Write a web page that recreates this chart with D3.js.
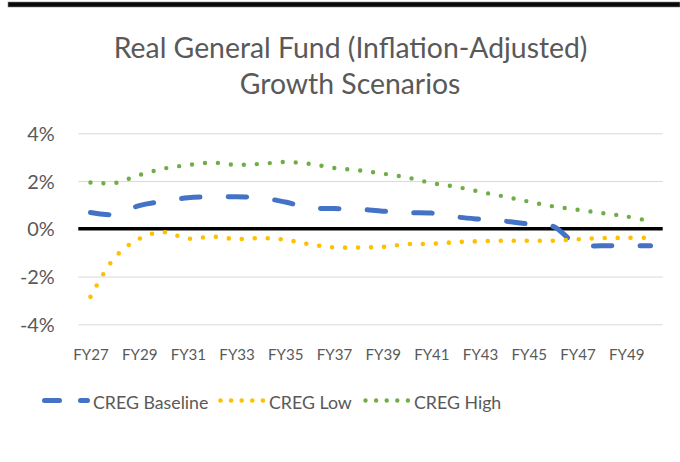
<!DOCTYPE html>
<html>
<head>
<meta charset="utf-8">
<script src="https://cdn.jsdelivr.net/npm/d3@7"></script>
<style>
  html, body { margin: 0; padding: 0; background: #fff; }
  svg { display: block; }
  text { font-family: Lato, "Open Sans", sans-serif; fill: #595959; }
</style>
</head>
<body>
<svg id="chart" width="680" height="462"></svg>
<script>
// ---- data ----
const categories = ["FY27","FY28","FY29","FY30","FY31","FY32","FY33","FY34","FY35","FY36","FY37","FY38",
                    "FY39","FY40","FY41","FY42","FY43","FY44","FY45","FY46","FY47","FY48","FY49","FY50"];
const tickLabels = ["FY27","FY29","FY31","FY33","FY35","FY37","FY39","FY41","FY43","FY45","FY47","FY49"];
const yTicks = [-4, -2, 0, 2, 4];
const baseline = [0.68, 0.60, 0.97, 1.15, 1.30, 1.34, 1.34, 1.30, 1.12, 0.88, 0.85, 0.82,
                  0.74, 0.68, 0.66, 0.50, 0.40, 0.32, 0.20, 0.10, -0.66, -0.71, -0.71, -0.71];
const low      = [-2.85, -1.20, -0.42, -0.14, -0.41, -0.33, -0.43, -0.39, -0.46, -0.65, -0.78, -0.78,
                  -0.76, -0.64, -0.63, -0.56, -0.52, -0.50, -0.50, -0.50, -0.44, -0.39, -0.38, -0.38];
const high     = [1.94, 1.92, 2.25, 2.52, 2.67, 2.77, 2.68, 2.72, 2.80, 2.72, 2.55, 2.45,
                  2.31, 2.15, 1.92, 1.76, 1.55, 1.35, 1.14, 0.94, 0.80, 0.66, 0.52, 0.32];
const seriesNames = ["CREG Baseline", "CREG Low", "CREG High"];
const title = ["Real General Fund (Inflation-Adjusted)", "Growth Scenarios"];

// ---- styles ----
const styles = [
  { color: "#4472C4", width: 5,   dash: "18.5,28.2", legendDash: "15,21" },
  { color: "#FFC000", width: 4.6, dash: "0,13",      legendDash: "0,10.6" },
  { color: "#70AD47", width: 4.4, dash: "0,13",      legendDash: "0,10.6" }
];
const seriesData = [baseline, low, high];

const svg = d3.select("#chart");

// font-size fitting helper: size so that sample string has target width
function fitSize(sample, targetWidth) {
  const t = svg.append("text").attr("font-size", 100).text(sample);
  const w = t.node().getComputedTextLength();
  t.remove();
  return 100 * targetWidth / w;
}
const titleSize  = fitSize(title[0], 474);
const yTickSize  = fitSize("4%", 27.5);
const xTickSize  = fitSize("FY27", 35.5);
const legendSize = fitSize(seriesNames[0], 115.5);

// top black bar
svg.append("rect").attr("x", 8).attr("y", 2).attr("width", 672).attr("height", 5)
   .attr("fill", "#0a0a0a").attr("stroke", "#888").attr("stroke-width", 0.6);

// title
svg.append("text").attr("x", 350.6).attr("y", 57.5).attr("text-anchor", "middle")
   .attr("font-size", titleSize).text(title[0]);
svg.append("text").attr("x", 350).attr("y", 94).attr("text-anchor", "middle")
   .attr("font-size", titleSize).text(title[1]);

// scales
const plotLeft = 78.3, plotRight = 662.7;
const x = d3.scalePoint().domain(categories).range([plotLeft, plotRight]).padding(0.5);
const y = d3.scaleLinear().domain([-4, 4]).range([324.3, 133.3]);

// gridlines + y labels
const yAxis = d3.axisLeft(y).tickValues(yTicks).tickSize(-(plotRight - plotLeft))
  .tickFormat(d => d + "%").tickPadding(23.5);
const gy = svg.append("g").attr("transform", `translate(${plotLeft},0)`).call(yAxis);
gy.select(".domain").remove();
gy.selectAll(".tick line").attr("stroke", "#d9d9d9").attr("stroke-width", 1)
  .filter(d => d === 0).attr("stroke", "none");
gy.selectAll(".tick text").attr("font-size", yTickSize).attr("fill", "#595959")
  .attr("font-family", "Lato, sans-serif").attr("dy", "0.36em");

// zero axis line
svg.append("line").attr("x1", plotLeft).attr("x2", plotRight)
   .attr("y1", y(0)).attr("y2", y(0)).attr("stroke", "#000").attr("stroke-width", 3.5);

// x axis labels
const xAxis = d3.axisBottom(x).tickValues(tickLabels).tickSize(0).tickPadding(0);
const gx = svg.append("g").attr("transform", `translate(0,360)`).call(xAxis);
gx.select(".domain").remove();
gx.selectAll(".tick text").attr("font-size", xTickSize).attr("fill", "#595959")
  .attr("font-family", "Lato, sans-serif").attr("dy", 0).attr("y", 0);

// lines
const line = d3.line().x((d, i) => x(categories[i])).y(d => y(d)).curve(d3.curveCatmullRom.alpha(0.5));
seriesData.forEach((s, k) => {
  svg.append("path").datum(s).attr("d", line).attr("fill", "none")
    .attr("stroke", styles[k].color).attr("stroke-width", styles[k].width)
    .attr("stroke-linecap", "round").attr("stroke-linejoin", "round")
    .attr("stroke-dasharray", styles[k].dash);
});

// legend
const legendX = [44.5, 220.5, 365.5];
const legendY = 400.5;
seriesNames.forEach((name, k) => {
  const g = svg.append("g");
  g.append("line").attr("x1", legendX[k]).attr("x2", legendX[k] + 43).attr("y1", legendY).attr("y2", legendY)
    .attr("stroke", styles[k].color).attr("stroke-width", styles[k].width)
    .attr("stroke-linecap", "round").attr("stroke-dasharray", styles[k].legendDash);
  g.append("text").attr("x", legendX[k] + 48.5).attr("y", legendY + 8.5).attr("font-size", legendSize).text(name);
});
</script>
</body>
</html>
